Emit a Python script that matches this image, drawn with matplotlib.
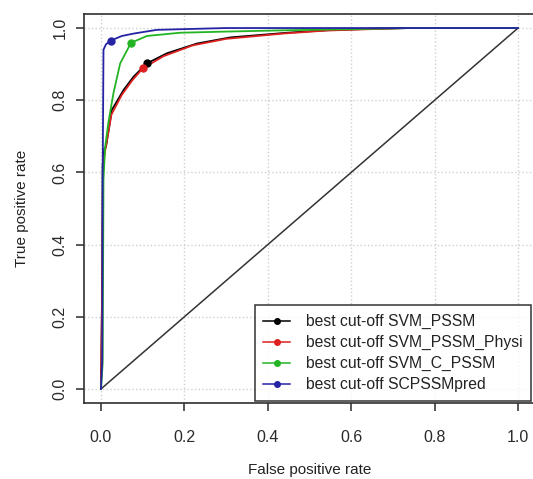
import matplotlib
matplotlib.use('Agg')
import matplotlib.pyplot as plt
from matplotlib.lines import Line2D

plt.rcParams['font.family'] = ['Liberation Sans', 'DejaVu Sans']

# ROC curves
fpr_pssm = [0, 0.003, 0.004, 0.008, 0.012, 0.026, 0.054, 0.078, 0.11, 0.158, 0.23, 0.31, 0.447, 0.544, 0.65, 0.74, 1.0]
tpr_pssm = [0, 0.30, 0.62, 0.665, 0.671, 0.773, 0.828, 0.865, 0.902, 0.93, 0.957, 0.974, 0.987, 0.994, 0.998, 1.0, 1.0]

fpr_physi = [0, 0.003, 0.005, 0.01, 0.025, 0.05, 0.075, 0.10, 0.15, 0.22, 0.30, 0.44, 0.54, 0.65, 0.73, 1.0]
tpr_physi = [0, 0.30, 0.62, 0.66, 0.76, 0.815, 0.855, 0.888, 0.922, 0.952, 0.97, 0.985, 0.993, 0.997, 1.0, 1.0]

fpr_c = [0, 0.004, 0.006, 0.01, 0.018, 0.03, 0.046, 0.072, 0.11, 0.19, 0.294, 0.45, 0.6, 0.745, 1.0]
tpr_c = [0, 0.07, 0.58, 0.671, 0.74, 0.82, 0.902, 0.959, 0.978, 0.987, 0.99, 0.994, 0.997, 1.0, 1.0]

fpr_scp = [0, 0.003, 0.004, 0.006, 0.012, 0.023, 0.05, 0.08, 0.134, 0.2, 0.3, 1.0]
tpr_scp = [0, 0.08, 0.58, 0.94, 0.955, 0.965, 0.978, 0.985, 0.995, 0.997, 1.0, 1.0]

# best cut-off points (fpr, tpr)
cut_fpr = [0.11, 0.10, 0.072, 0.023]
cut_tpr = [0.902, 0.888, 0.959, 0.965]

labels = ['best cut-off SVM_PSSM', 'best cut-off SVM_PSSM_Physi',
          'best cut-off SVM_C_PSSM', 'best cut-off SCPSSMpred']
colors = ['black', '#dd2020', '#22b422', '#2424a4']

curves = [(fpr_pssm, tpr_pssm), (fpr_physi, tpr_physi), (fpr_c, tpr_c), (fpr_scp, tpr_scp)]

fig = plt.figure(figsize=(5.33, 4.79), dpi=100)
ax = fig.add_axes([84.3 / 533, (479 - 403.4) / 479, 450.4 / 533, 389.8 / 479])

ax.grid(True, linestyle=':', color='#d0d0d0', linewidth=1)
ax.set_axisbelow(True)

ax.plot([0, 1], [0, 1], color='#333333', linewidth=1.1)
for (fx, ty), c in zip(curves, colors):
    ax.plot(fx, ty, color=c, linewidth=1.3)
for x, y, c in zip(cut_fpr, cut_tpr, colors):
    ax.plot(x, y, 'o', color=c, markersize=5)

ax.set_xlim(-0.04, 1.04)
ax.set_ylim(-0.04, 1.04)
ticks = [0.0, 0.2, 0.4, 0.6, 0.8, 1.0]
ax.set_xticks(ticks)
ax.set_yticks(ticks)
ax.set_xticklabels(['%.1f' % t for t in ticks])
ax.set_yticklabels(['%.1f' % t for t in ticks], rotation=90, va='center')
ax.tick_params(direction='out', length=6, width=1.1, colors='#2a2a2a',
               labelsize=11.5)
ax.tick_params(axis='x', pad=13)
ax.tick_params(axis='y', pad=6)
for s in ax.spines.values():
    s.set_color('#303030')
    s.set_linewidth(1.2)

ax.set_xlabel('False positive rate', fontsize=11, color='#222222', labelpad=13)
ax.set_ylabel('True positive rate', fontsize=11, color='#222222', labelpad=17)

handles = [Line2D([0], [0], color=c, linewidth=1.1, marker='o', markersize=4)
           for c in colors]
leg = ax.legend(handles, labels, loc='lower right', bbox_to_anchor=(0.992, 0.006),
                borderaxespad=0, fontsize=11.3, frameon=True, fancybox=False,
                handlelength=1.7, handletextpad=1.0, labelspacing=0.38,
                borderpad=0.55)
leg.get_frame().set_edgecolor('black')
leg.get_frame().set_linewidth(1.1)
for t in leg.get_texts():
    t.set_color('#222222')

fig.savefig('out.png', dpi=100)
